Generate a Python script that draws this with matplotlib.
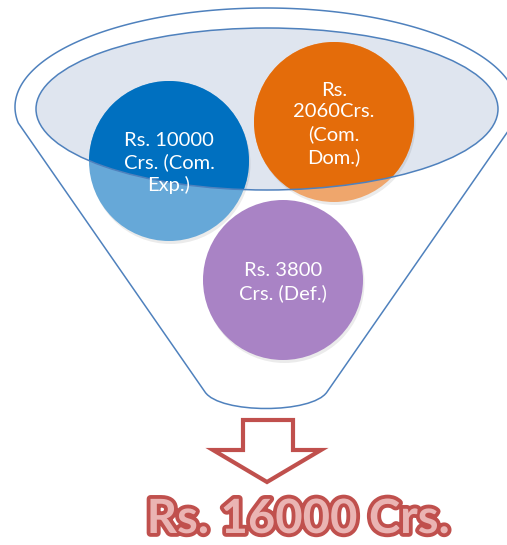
import matplotlib
matplotlib.use("Agg")
import matplotlib.pyplot as plt
import matplotlib.patheffects as pe
from matplotlib.patches import Circle, Ellipse, PathPatch
from matplotlib.path import Path
import numpy as np

# Données : composantes du total (Rs. Crs.), telles qu'affichées
segments = ["Com. Exp.", "Com. Dom.", "Def."]
montants = [10000, 2060, 3800]
etiquettes = ["Rs. 10000\nCrs. (Com.\nExp.)", "Rs.\n2060Crs.\n(Com.\nDom.)", "Rs. 3800\nCrs. (Def.)"]
texte_total = "Rs. 16000 Crs."

# couleurs (foncé = dans l'ellipse, clair = dehors)
couleurs_fonce = ["#0070c0", "#e46c0a", "#7f4fa8"]
couleurs_clair = ["#66a8d8", "#efa66c", "#a983c5"]
centres = [(169, 161), (334, 122), (283, 280)]
rayon = 80

bleu = "#4f81bd"
rouge = "#c0504d"

fig = plt.figure(figsize=(5.07, 5.45), dpi=100)
ax = fig.add_axes([0, 0, 1, 1])
ax.set_xlim(0, 507)
ax.set_ylim(545, 0)
ax.axis("off")

# ellipse intérieure (fond)
cx, cy = 267, 109
ax.add_patch(Ellipse((cx, cy), 462, 162, facecolor="#dfe5ef", edgecolor="none", zorder=1))

# cercles
for (x, y), cf, cc in zip(centres, couleurs_fonce, couleurs_clair):
    ax.add_patch(Circle((x + 1.5, y + 3), rayon, facecolor="#000000", alpha=0.08, edgecolor="none", zorder=2))
    ax.add_patch(Circle((x, y), rayon, facecolor=cc, edgecolor="none", zorder=3))
    c2 = Circle((x, y), rayon, facecolor=cf, edgecolor="none", zorder=4)
    ax.add_patch(c2)
    clip = Ellipse((cx, cy), 462, 162, transform=ax.transData)
    c2.set_clip_path(clip)

ax.add_patch(Ellipse((cx, cy), 462, 162, facecolor="none", edgecolor=bleu, linewidth=1.1, zorder=5))

# contour de l'entonnoir : haut de l'ellipse extérieure + côtés + fond arrondi
ox, oy, a, b = 266, 107, 251, 99
y_raccord = 123
t0 = np.arcsin((y_raccord - oy) / b)
angles = np.linspace(t0, -np.pi - t0, 200)
xs = ox + a * np.cos(angles)
ys = oy + b * np.sin(angles)
sommets = list(zip(xs, ys))
codes = [Path.MOVETO] + [Path.LINETO] * (len(sommets) - 1)
sommets += [(205, 392), (220, 414), (312, 414), (327, 392), (xs[0], ys[0])]
codes += [Path.LINETO, Path.CURVE4, Path.CURVE4, Path.CURVE4, Path.LINETO]
ax.add_patch(PathPatch(Path(sommets, codes), facecolor="none", edgecolor=bleu, linewidth=1.1, zorder=6))

# textes des cercles
for (x, y), txt in zip(centres, etiquettes):
    ax.text(x, y + 2, txt, ha="center", va="center", color="white", fontsize=14.5,
            family=["Lato", "DejaVu Sans"], linespacing=1.33, zorder=7)

# flèche creuse
fleche = [(243, 420), (293, 420), (293, 450), (321, 450), (267, 482), (213, 450), (243, 450), (243, 420)]
ax.add_patch(plt.Polygon(fleche, closed=True, facecolor="white", edgecolor=rouge, linewidth=3, joinstyle="miter", zorder=6))

# total
t = ax.text(298, 519, texte_total, ha="center", va="center", color="#eab4b3", fontsize=34,
            fontweight="bold", family=["Lato", "DejaVu Sans"], zorder=7)
t.set_path_effects([pe.Stroke(linewidth=5.5, foreground=rouge), pe.Normal()])

fig.savefig("out.png", dpi=100)
